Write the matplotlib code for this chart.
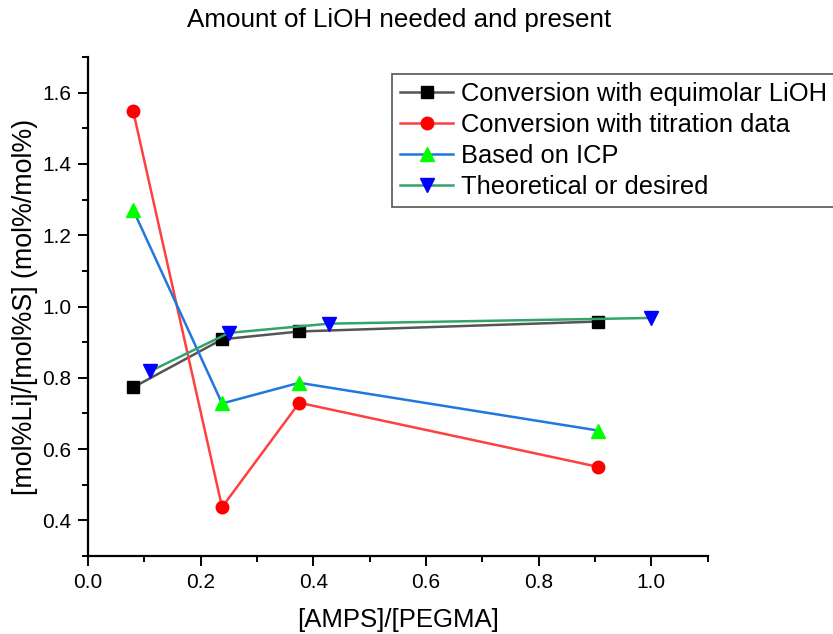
import numpy as np
import matplotlib
matplotlib.use("Agg")
import matplotlib.pyplot as plt
from matplotlib.ticker import MultipleLocator

plt.rcParams['font.family'] = ['Liberation Sans', 'DejaVu Sans']

# Data.
x_equimolar = [0.08, 0.238, 0.375, 0.906]
y_equimolar = [0.773, 0.908, 0.930, 0.958]

x_titration = [0.08, 0.238, 0.375, 0.906]
y_titration = [1.550, 0.437, 0.730, 0.550]

x_icp = [0.08, 0.238, 0.375, 0.906]
y_icp = [1.272, 0.728, 0.786, 0.652]

x_theory = [0.110, 0.250, 0.428, 1.0]
y_theory = [0.818, 0.926, 0.952, 0.968]

labels = ["Conversion with equimolar LiOH",
          "Conversion with titration data",
          "Based on ICP",
          "Theoretical or desired"]

fig = plt.figure(figsize=(8.33, 6.34), dpi=100)
ax = fig.add_axes([0.1056, 0.123, 0.744, 0.787])

ax.plot(x_equimolar, y_equimolar, color='#555555', lw=1.8, marker='s',
        ms=8, mfc='black', mec='black', label=labels[0])
ax.plot(x_titration, y_titration, color='#ff4040', lw=1.8, marker='o',
        ms=9, mfc='#ff0000', mec='#ff0000', label=labels[1])
ax.plot(x_icp, y_icp, color='#2277dd', lw=1.8, marker='^',
        ms=10, mfc='#00ff00', mec='#00ff00', label=labels[2])
ax.plot(x_theory, y_theory, color='#33a36a', lw=1.8, marker='v',
        ms=10, mfc='#0000ff', mec='#0000ff', label=labels[3])

ax.set_xlim(0, 1.1)
ax.set_ylim(0.3, 1.7)
ax.xaxis.set_minor_locator(MultipleLocator(0.1))
ax.yaxis.set_minor_locator(MultipleLocator(0.1))
ax.set_xticks(np.arange(0, 1.01, 0.2))
ax.set_yticks(np.arange(0.4, 1.61, 0.2))

# Origin-like axes: only left and bottom spines, ticks outward.
ax.spines['top'].set_visible(False)
ax.spines['right'].set_visible(False)
for s in ('left', 'bottom'):
    ax.spines[s].set_linewidth(1.6)
ax.tick_params(which='major', direction='out', length=7, width=1.4,
               labelsize=15, pad=5)
ax.tick_params(which='minor', direction='out', length=4, width=1.4)

ax.set_xlabel("[AMPS]/[PEGMA]", fontsize=18.5, labelpad=12)
ax.set_ylabel("[mol%Li]/[mol%S] (mol%/mol%)", fontsize=19.3, labelpad=3)
fig.suptitle("Amount of LiOH needed and present", fontsize=18.7, x=0.479, y=0.988)

leg = ax.legend(loc='upper left', bbox_to_anchor=(392 / 833, 1 - 74 / 634),
                bbox_transform=fig.transFigure, fontsize=18.4, frameon=True,
                fancybox=False, edgecolor='#555555', framealpha=1,
                borderaxespad=0, borderpad=0.3, labelspacing=0.28,
                handlelength=2.1, handletextpad=0.3)
leg.get_frame().set_linewidth(1.2)

plt.savefig("out.png", dpi=100)
